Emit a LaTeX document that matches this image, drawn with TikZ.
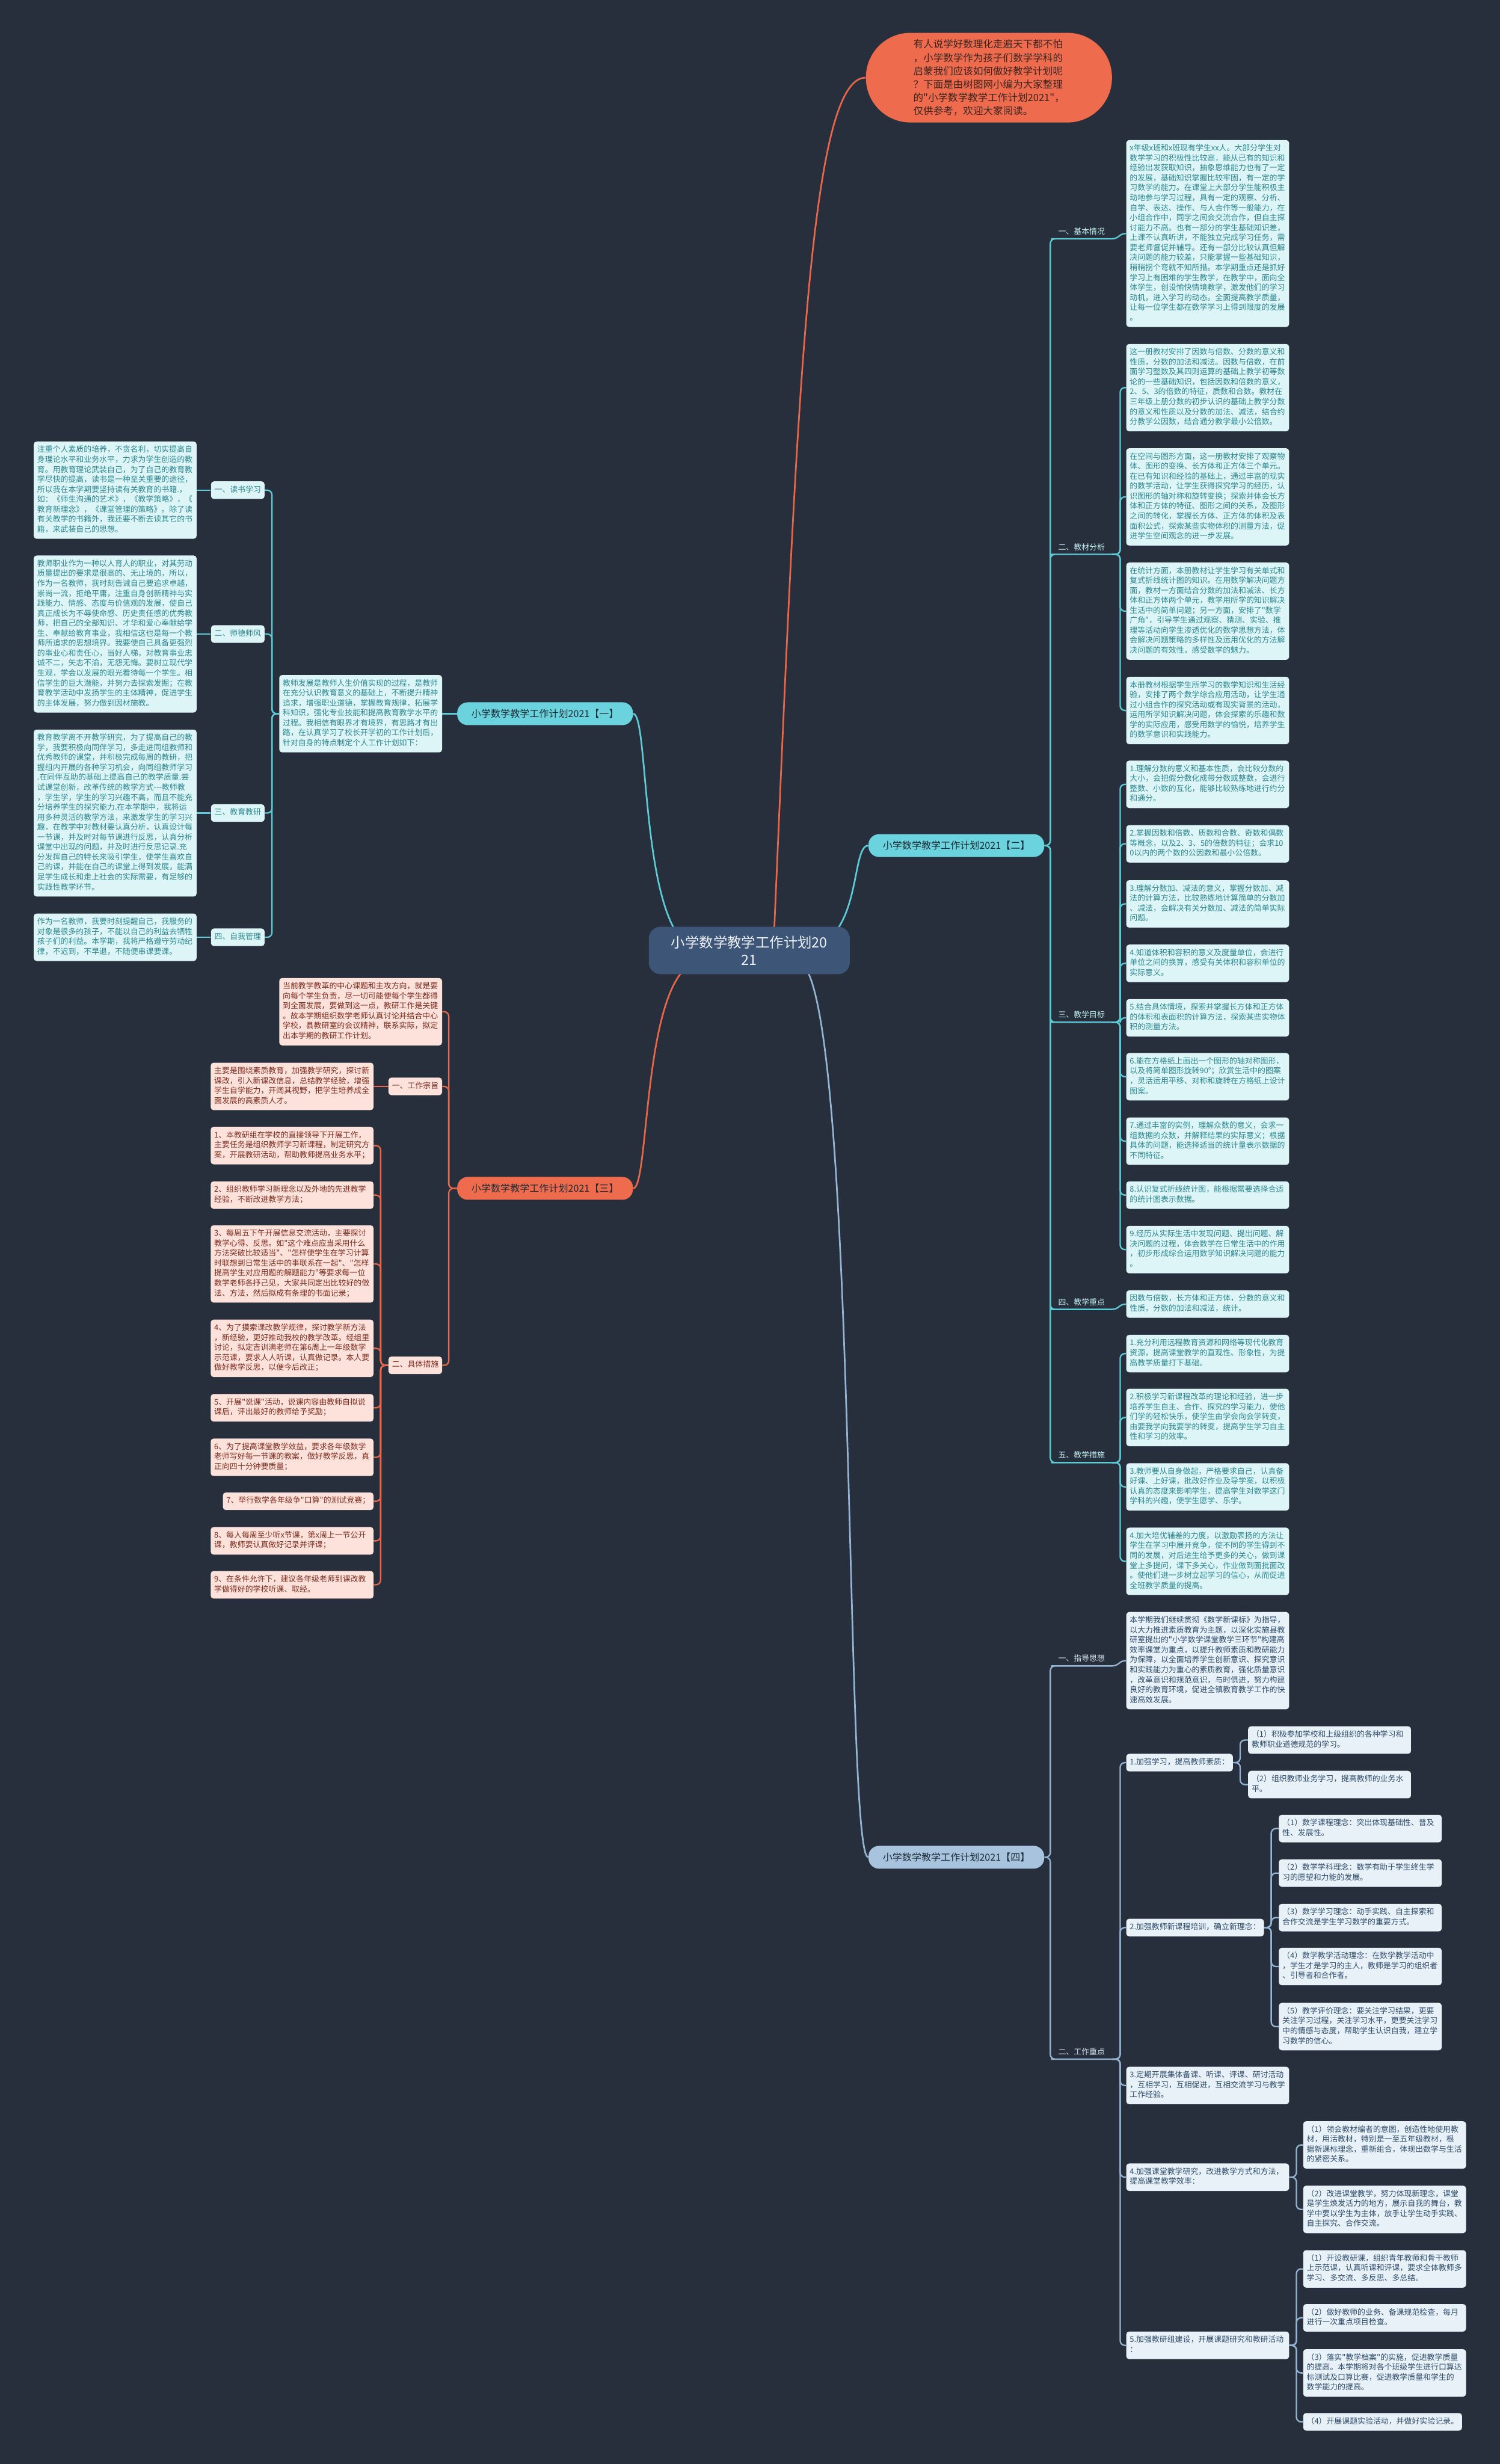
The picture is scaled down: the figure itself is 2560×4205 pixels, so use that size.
\documentclass[tikz,border=0pt]{standalone}
\usepackage{fontspec}
\newfontfamily\cjk{Noto Sans CJK SC}
\newcommand{\dfont}{\cjk\fontsize{6.625}{8.5}\selectfont}
\newcommand{\elb}[4]{\draw[#1] (#2) -- ++(#3,0) |- (#4);}
\definecolor{bgc}{HTML}{272F3C}
\definecolor{cyline}{HTML}{5DCBD6}
\definecolor{cynode}{HTML}{6BD3DD}
\definecolor{cyfill}{HTML}{DEF5F7}
\definecolor{cytext}{HTML}{2B8790}
\definecolor{cylab}{HTML}{BFEEF2}
\definecolor{ogline}{HTML}{E8674A}
\definecolor{ognode}{HTML}{EF6B4D}
\definecolor{ogfill}{HTML}{FCE2DB}
\definecolor{ogtext}{HTML}{7F2C1E}
\definecolor{introtext}{HTML}{3A2420}
\definecolor{stline}{HTML}{94B4D4}
\definecolor{stnode}{HTML}{A8C3DE}
\definecolor{stfill}{HTML}{E8F1F8}
\definecolor{sttext}{HTML}{2E4B6A}
\definecolor{stlab}{HTML}{D0E0EF}
\definecolor{rootc}{HTML}{3D5577}
\definecolor{rootfg}{HTML}{EEF2F7}
\definecolor{brtext}{HTML}{1D2B36}
\pgfdeclarelayer{bg}
\pgfdeclarelayer{lines}
\pgfsetlayers{bg,lines,main}
\begin{document}
\begin{tikzpicture}[x=0.5pt,y=-0.5pt,
  base/.style={rectangle, rounded corners=2.5pt, font=\dfont, inner xsep=3pt, inner ysep=3.25pt, align=left, execute at begin node=\strut, execute at end node=\strut},
  cy/.style={base, fill=cyfill, text=cytext},
  og/.style={base, fill=ogfill, text=ogtext},
  st/.style={base, fill=stfill, text=sttext},
  tw/.style={text width=133pt},
  lab/.style={font=\dfont, inner sep=0pt, anchor=west, execute at begin node=\strut},
  br/.style={rectangle, rounded corners=9pt, minimum width=150pt, minimum height=19.5pt, inner sep=0pt, font=\cjk\fontsize{8.25}{10}\selectfont, text=brtext},
  lcy/.style={draw=cyline, line width=1.2pt, rounded corners=4pt},
  log/.style={draw=ogline, line width=1.2pt, rounded corners=4pt},
  lst/.style={draw=stline, line width=1.2pt, rounded corners=4pt},
  curve/.style={line width=1.4pt}
]
\begin{pgfonlayer}{bg}
\fill[bgc] (0,0) rectangle (2560,4205);
\end{pgfonlayer}
\useasboundingbox (0,0) rectangle (2560,4205);

% ---------- root and intro ----------
\node[rectangle, rounded corners=10pt, fill=rootc, text=rootfg, font=\cjk\fontsize{12}{15}\selectfont, align=center, minimum width=171.5pt, minimum height=40.5pt, inner sep=0pt] (R) at (1279,1622) {小学数学教学工作计划20\\21};

\node[rectangle, rounded corners=38pt, fill=ognode, text=introtext, font=\cjk\fontsize{8.5}{11.35}\selectfont, align=left, minimum width=210pt, minimum height=76.5pt, inner sep=0pt] (I) at (1688,132.5) {有人说学好数理化走遍天下都不怕\\，小学数学作为孩子们数学学科的\\启蒙我们应该如何做好教学计划呢\\？下面是由树图网小编为大家整理\\的"小学数学教学工作计划2021"，\\仅供参考，欢迎大家阅读。};

% ---------- branch nodes ----------
\node[br, fill=cynode, anchor=west] (B1) at (780,1218) {小学数学教学工作计划2021【一】};
\node[br, fill=cynode, anchor=west] (B2) at (1482,1443) {小学数学教学工作计划2021【二】};
\node[br, fill=ognode, anchor=west] (B3) at (780,2028) {小学数学教学工作计划2021【三】};
\node[br, fill=stnode, anchor=west] (B4) at (1482,3169.5) {小学数学教学工作计划2021【四】};

% ---------- branch one (left, cyan) ----------
\node[cy,tw,anchor=east] (T1) at (755,1218) {教师发展是教师人生价值实现的过程，是教师\\在充分认识教育意义的基础上，不断提升精神\\追求，增强职业道德，掌握教育规律，拓展学\\科知识，强化专业技能和提高教育教学水平的\\过程。我相信有眼界才有境界，有思路才有出\\路，在认真学习了校长开学初的工作计划后，\\针对自身的特点制定个人工作计划如下：};
\node[cy,anchor=east] (La1) at (452,836.5) {一、读书学习};
\node[cy,anchor=east] (La2) at (452,1082) {二、师德师风};
\node[cy,anchor=east] (La3) at (452,1387.5) {三、教育教研};
\node[cy,anchor=east] (La4) at (452,1599.5) {四、自我管理};
\node[cy,tw,anchor=east] (Da1) at (336,836.5) {注重个人素质的培养，不贪名利，切实提高自\\身理论水平和业务水平，力求为学生创造的教\\育。用教育理论武装自己，为了自己的教育教\\学尽快的提高，读书是一种至关重要的途径，\\所以我在本学期要坚持读有关教育的书籍.，\\如：《师生沟通的艺术》，《教学策略》，《\\教育新理念》，《课堂管理的策略》。除了读\\有关教学的书籍外，我还要不断去读其它的书\\籍，来武装自己的思想。};
\node[cy,tw,anchor=east] (Da2) at (336,1082) {教师职业作为一种以人育人的职业，对其劳动\\质量提出的要求是很高的、无止境的，所以，\\作为一名教师，我时刻告诫自己要追求卓越，\\崇尚一流，拒绝平庸，注重自身创新精神与实\\践能力、情感、态度与价值观的发展，使自己\\真正成长为不辱使命感、历史责任感的优秀教\\师，把自己的全部知识、才华和爱心奉献给学\\生、奉献给教育事业，我相信这也是每一个教\\师所追求的思想境界。我要使自己具备更强烈\\的事业心和责任心，当好人梯，对教育事业忠\\诚不二，矢志不渝，无怨无悔。要树立现代学\\生观，学会以发展的眼光看待每一个学生。相\\信学生的巨大潜能，并努力去探索发掘；在教\\育教学活动中发扬学生的主体精神，促进学生\\的主体发展，努力做到因材施教。};
\node[cy,tw,anchor=east] (Da3) at (336,1387.5) {教育教学离不开教学研究，为了提高自己的教\\学，我要积极向同伴学习，多走进同组教师和\\优秀教师的课堂，并积极完成每周的教研，把\\握组内开展的各种学习机会，向同组教师学习\\.在同伴互助的基础上提高自己的教学质量.尝\\试课堂创新，改革传统的教学方式-{}-{}-教师教\\，学生学，学生的学习兴趣不高，而且不能充\\分培养学生的探究能力.在本学期中，我将运\\用多种灵活的教学方法，来激发学生的学习兴\\趣，在教学中对教材要认真分析，认真设计每\\一节课，并及时对每节课进行反思，认真分析\\课堂中出现的问题，并及时进行反思记录.充\\分发挥自己的特长来吸引学生，使学生喜欢自\\己的课，并能在自己的课堂上得到发展，能满\\足学生成长和走上社会的实际需要，有足够的\\实践性教学环节。};
\node[cy,tw,anchor=east] (Da4) at (336,1599.5) {作为一名教师，我要时刻提醒自己，我服务的\\对象是很多的孩子，不能以自己的利益去牺牲\\孩子们的利益。本学期，我将严格遵守劳动纪\\律，不迟到，不早退，不随便串课要课。};

% ---------- branch three (left, orange) ----------
\node[og,tw,anchor=east] (T3) at (755,1726.5) {当前教学教革的中心课题和主攻方向，就是要\\向每个学生负责，尽一切可能使每个学生都得\\到全面发展，要做到这一点，教研工作是关键\\。故本学期组织数学老师认真讨论并结合中心\\学校，县教研室的会议精神，联系实际，拟定\\出本学期的教研工作计划。};
\node[og,anchor=east] (Lc1) at (755,1854) {一、工作宗旨};
\node[og,anchor=east] (Lc2) at (755,2330) {二、具体措施};
\node[og,tw,anchor=east] (Dc0) at (638,1854) {主要是围绕素质教育，加强教学研究，探讨新\\课改，引入新课改信息，总结教学经验，增强\\学生自学能力，开阔其视野，把学生培养成全\\面发展的高素质人才。};
\node[og,tw,anchor=east] (Dc1) at (638,1955) {1、本教研组在学校的直接领导下开展工作，\\主要任务是组织教师学习新课程，制定研究方\\案，开展教研活动，帮助教师提高业务水平；};
\node[og,tw,anchor=east] (Dc2) at (638,2039.5) {2、组织教师学习新理念以及外地的先进教学\\经验，不断改进教学方法；};
\node[og,tw,anchor=east] (Dc3) at (638,2157) {3、每周五下午开展信息交流活动，主要探讨\\教学心得、反思。如"这个难点应当采用什么\\方法突破比较适当"、"怎样使学生在学习计算\\时联想到日常生活中的事联系在一起"、"怎样\\提高学生对应用题的解题能力"等要求每一位\\数学老师各抒己见，大家共同定出比较好的做\\法、方法，然后拟成有条理的书面记录；};
\node[og,tw,anchor=east] (Dc4) at (638,2301) {4、为了摸索课改教学规律，探讨教学新方法\\，新经验，更好推动我校的教学改革。经组里\\讨论，拟定吉训满老师在第6周上一年级数学\\示范课，要求人人听课，认真做记录。本人要\\做好教学反思，以便今后改正；};
\node[og,tw,anchor=east] (Dc5) at (638,2402.5) {5、开展"说课"活动，说课内容由教师自拟说\\课后，评出最好的教师给予奖励；};
\node[og,tw,anchor=east] (Dc6) at (638,2487) {6、为了提高课堂教学效益，要求各年级数学\\老师写好每一节课的教案，做好教学反思，真\\正向四十分钟要质量；};
\node[og,anchor=east] (Dc7) at (638,2562) {7、举行数学各年级争"口算"的测试竞赛；};
\node[og,tw,anchor=east] (Dc8) at (638,2629.5) {8、每人每周至少听x节课，第x周上一节公开\\课，教师要认真做好记录并评课；};
\node[og,tw,anchor=east] (Dc9) at (638,2704.5) {9、在条件允许下，建议各年级老师到课改教\\学做得好的学校听课、取经。};

% ---------- branch two (right, cyan) ----------
\node[lab,text=cylab] (L21) at (1806,396.5) {一、基本情况};
\node[lab,text=cylab] (L22) at (1806,935) {二、教材分析};
\node[lab,text=cylab] (L23) at (1806,1733.5) {三、教学目标};
\node[lab,text=cylab] (L24) at (1806,2223.5) {四、教学重点};
\node[lab,text=cylab] (L25) at (1806,2485) {五、教学措施};
\foreach \n/\y in {21/398.5,22/937,23/1735.5,24/2225.5,25/2487}{
  \coordinate (L\n s) at (1802,\y+9);
  \coordinate (L\n e) at (1898,\y+9);
}
\node[cy,tw,anchor=west] (Db1) at (1922,398.5) {x年级x班和x班现有学生xx人。大部分学生对\\数学学习的积极性比较高，能从已有的知识和\\经验出发获取知识，抽象思维能力也有了一定\\的发展，基础知识掌握比较牢固，有一定的学\\习数学的能力。在课堂上大部分学生能积极主\\动地参与学习过程，具有一定的观察、分析、\\自学、表达、操作、与人合作等一般能力，在\\小组合作中，同学之间会交流合作，但自主探\\讨能力不高。也有一部分的学生基础知识差，\\上课不认真听讲，不能独立完成学习任务，需\\要老师督促并辅导。还有一部分比较认真但解\\决问题的能力较差，只能掌握一些基础知识，\\稍稍拐个弯就不知所措。本学期重点还是抓好\\学习上有困难的学生教学，在教学中，面向全\\体学生，创设愉快情境教学，激发他们的学习\\动机，进入学习的动态。全面提高教学质量，\\让每一位学生都在数学学习上得到限度的发展\\。};
\node[cy,tw,anchor=west] (Db2) at (1922,661.5) {这一册教材安排了因数与倍数、分数的意义和\\性质，分数的加法和减法。因数与倍数，在前\\面学习整数及其四则运算的基础上教学初等数\\论的一些基础知识，包括因数和倍数的意义，\\2、5、3的倍数的特征，质数和合数。教材在\\三年级上册分数的初步认识的基础上教学分数\\的意义和性质以及分数的加法、减法，结合约\\分教学公因数，结合通分教学最小公倍数。};
\node[cy,tw,anchor=west] (Db3) at (1922,848) {在空间与图形方面，这一册教材安排了观察物\\体、图形的变换、长方体和正方体三个单元。\\在已有知识和经验的基础上，通过丰富的现实\\的数学活动，让学生获得探究学习的经历，认\\识图形的轴对称和旋转变换；探索并体会长方\\体和正方体的特征、图形之间的关系，及图形\\之间的转化，掌握长方体、正方体的体积及表\\面积公式，探索某些实物体积的测量方法，促\\进学生空间观念的进一步发展。};
\node[cy,tw,anchor=west] (Db4) at (1922,1043) {在统计方面，本册教材让学生学习有关单式和\\复式折线统计图的知识。在用数学解决问题方\\面，教材一方面结合分数的加法和减法、长方\\体和正方体两个单元，教学用所学的知识解决\\生活中的简单问题；另一方面，安排了"数学\\广角"，引导学生通过观察、猜测、实验、推\\理等活动向学生渗透优化的数学思想方法，体\\会解决问题策略的多样性及运用优化的方法解\\决问题的有效性，感受数学的魅力。};
\node[cy,tw,anchor=west] (Db5) at (1922,1212.5) {本册教材根据学生所学习的数学知识和生活经\\验，安排了两个数学综合应用活动，让学生通\\过小组合作的探究活动或有现实背景的活动，\\运用所学知识解决问题，体会探索的乐趣和数\\学的实际应用，感受用数学的愉悦，培养学生\\的数学意识和实践能力。};
\node[cy,tw,anchor=west] (Db6) at (1922,1338.5) {1.理解分数的意义和基本性质，会比较分数的\\大小，会把假分数化成带分数或整数，会进行\\整数、小数的互化，能够比较熟练地进行约分\\和通分。};
\node[cy,tw,anchor=west] (Db7) at (1922,1440) {2.掌握因数和倍数、质数和合数、奇数和偶数\\等概念，以及2、3、5的倍数的特征；会求10\\0以内的两个数的公因数和最小公倍数。};
\node[cy,tw,anchor=west] (Db8) at (1922,1542.5) {3.理解分数加、减法的意义，掌握分数加、减\\法的计算方法，比较熟练地计算简单的分数加\\、减法，会解决有关分数加、减法的简单实际\\问题。};
\node[cy,tw,anchor=west] (Db9) at (1922,1644) {4.知道体积和容积的意义及度量单位，会进行\\单位之间的换算，感受有关体积和容积单位的\\实际意义。};
\node[cy,tw,anchor=west] (Db10) at (1922,1737) {5.结合具体情境，探索并掌握长方体和正方体\\的体积和表面积的计算方法，探索某些实物体\\积的测量方法。};
\node[cy,tw,anchor=west] (Db11) at (1922,1837.5) {6.能在方格纸上画出一个图形的轴对称图形，\\以及将简单图形旋转90°；欣赏生活中的图案\\，灵活运用平移、对称和旋转在方格纸上设计\\图案。};
\node[cy,tw,anchor=west] (Db12) at (1922,1947.5) {7.通过丰富的实例，理解众数的意义，会求一\\组数据的众数，并解释结果的实际意义；根据\\具体的问题，能选择适当的统计量表示数据的\\不同特征。};
\node[cy,tw,anchor=west] (Db13) at (1922,2039.5) {8.认识复式折线统计图，能根据需要选择合适\\的统计图表示数据。};
\node[cy,tw,anchor=west] (Db14) at (1922,2132.5) {9.经历从实际生活中发现问题、提出问题、解\\决问题的过程，体会数学在日常生活中的作用\\，初步形成综合运用数学知识解决问题的能力\\。};
\node[cy,tw,anchor=west] (Db15) at (1922,2225.5) {因数与倍数，长方体和正方体，分数的意义和\\性质，分数的加法和减法，统计。};
\node[cy,tw,anchor=west] (Db16) at (1922,2310) {1.充分利用远程教育资源和网络等现代化教育\\资源，提高课堂教学的直观性、形象性，为提\\高教学质量打下基础。};
\node[cy,tw,anchor=west] (Db17) at (1922,2419) {2.积极学习新课程改革的理论和经验，进一步\\培养学生自主、合作、探究的学习能力，使他\\们学的轻松快乐，使学生由学会向会学转变，\\由要我学向我要学的转变，提高学生学习自主\\性和学习的效率。};
\node[cy,tw,anchor=west] (Db18) at (1922,2537.5) {3.教师要从自身做起，严格要求自己，认真备\\好课、上好课，批改好作业及导学案，以积极\\认真的态度来影响学生，提高学生对数学这门\\学科的兴趣，使学生愿学、乐学。};
\node[cy,tw,anchor=west] (Db19) at (1922,2664.5) {4.加大培优辅差的力度，以激励表扬的方法让\\学生在学习中展开竞争，使不同的学生得到不\\同的发展，对后进生给予更多的关心，做到课\\堂上多提问，课下多关心，作业做到面批面改\\。使他们进一步树立起学习的信心，从而促进\\全班教学质量的提高。};

% ---------- branch four (right, steel) ----------
\node[lab,text=stlab] (L41) at (1806,2832) {一、指导思想};
\node[lab,text=stlab] (L42) at (1806,3503) {二、工作重点};
\coordinate (L41s) at (1802,2843);
\coordinate (L41e) at (1898,2843);
\coordinate (L42s) at (1802,3514);
\coordinate (L42e) at (1898,3514);
\node[st,tw,anchor=west] (Dd0) at (1922,2834) {本学期我们继续贯彻《数学新课标》为指导，\\以大力推进素质教育为主题，以深化实施县教\\研室提出的"小学数学课堂教学三环节"构建高\\效率课堂为重点，以提升教师素质和教研能力\\为保障，以全面培养学生创新意识、探究意识\\和实践能力为重心的素质教育，强化质量意识\\，改革意识和规范意识，与时俱进，努力构建\\良好的教育环境，促进全镇教育教学工作的快\\速高效发展。};
\node[st,anchor=west] (C1) at (1922,3008) {1.加强学习，提高教师素质：};
\node[st,tw,anchor=west] (C11) at (2130,2969.5) {（1）积极参加学校和上级组织的各种学习和\\教师职业道德规范的学习。};
\node[st,tw,anchor=west] (C12) at (2130,3045.5) {（2）组织教师业务学习，提高教师的业务水\\平。};
\node[st,anchor=west] (C2) at (1922,3289.5) {2.加强教师新课程培训，确立新理念：};
\node[st,tw,anchor=west] (C21) at (2182.5,3120.5) {（1）数学课程理念：突出体现基础性、普及\\性、发展性。};
\node[st,tw,anchor=west] (C22) at (2182.5,3196.5) {（2）数学学科理念：数学有助于学生终生学\\习的愿望和力能的发展。};
\node[st,tw,anchor=west] (C23) at (2182.5,3272.5) {（3）数学学习理念：动手实践、自主探索和\\合作交流是学生学习数学的重要方式。};
\node[st,tw,anchor=west] (C24) at (2182.5,3356) {（4）数学教学活动理念：在数学教学活动中\\，学生才是学习的主人，教师是学习的组织者\\、引导者和合作者。};
\node[st,tw,anchor=west] (C25) at (2182.5,3458.5) {（5）教学评价理念：要关注学习结果，更要\\关注学习过程，关注学习水平，更要关注学习\\中的情感与态度，帮助学生认识自我，建立学\\习数学的信心。};
\node[st,tw,anchor=west] (C3) at (1922,3559) {3.定期开展集体备课、听课、评课、研讨活动\\，互相学习，互相促进，互相交流学习与教学\\工作经验。};
\node[st,tw,anchor=west] (C4) at (1922,3715.5) {4.加强课堂教学研究，改进教学方式和方法，\\提高课堂教学效率：};
\node[st,tw,anchor=west] (C41) at (2224,3660.5) {（1）领会教材编者的意图，创造性地使用教\\材，用活教材，特别是一至五年级教材，根\\据新课标理念，重新组合，体现出数学与生活\\的紧密关系。};
\node[st,tw,anchor=west] (C42) at (2224,3770.5) {（2）改进课堂教学，努力体现新理念，课堂\\是学生焕发活力的地方，展示自我的舞台，教\\学中要以学生为主体，放手让学生动手实践、\\自主探究、合作交流。};
\node[st,tw,anchor=west] (C5) at (1922,4002.5) {5.加强教研组建设，开展课题研究和教研活动\\：};
\node[st,tw,anchor=west] (C51) at (2224,3872) {（1）开设教研课，组织青年教师和骨干教师\\上示范课，认真听课和评课，要求全体教师多\\学习、多交流、多反思、多总结。};
\node[st,tw,anchor=west] (C52) at (2224,3955.5) {（2）做好教师的业务、备课规范检查，每月\\进行一次重点项目检查。};
\node[st,tw,anchor=west] (C53) at (2224,4049.5) {（3）落实"教学档案"的实施，促进教学质量\\的提高。本学期将对各个班级学生进行口算达\\标测试及口算比赛，促进教学质量和学生的\\数学能力的提高。};
\node[st,anchor=west] (C54) at (2224,4133) {（4）开展课题实验活动，并做好实验记录。};

% ---------- connectors ----------
\begin{pgfonlayer}{lines}
% root curves
\draw[ogline, curve] (1320,1622) .. controls (1360,700) and (1380,132) .. (I.west);
\draw[cyline, curve] (1360,1622) .. controls (1475,1622) and (1450,1443) .. (B2.west);
\draw[stline, curve] (1360,1640) .. controls (1465,1640) and (1440,3169.5) .. (B4.west);
\draw[cyline, curve] (1200,1622) .. controls (1090,1622) and (1110,1218) .. (B1.east);
\draw[ogline, curve] (1200,1640) .. controls (1095,1640) and (1110,2028) .. (B3.east);
% branch one
\draw[lcy] (B1.west) -- (T1.east);
\foreach \k in {1,2,3,4}{
  \elb{lcy}{T1.west}{-12}{La\k.east}
  \draw[lcy] (La\k.west) -- (Da\k.east);
}
% branch three
\elb{log}{B3.west}{-14}{T3.east}
\elb{log}{B3.west}{-14}{Lc1.east}
\elb{log}{B3.west}{-14}{Lc2.east}
\draw[log] (Lc1.west) -- (Dc0.east);
\foreach \k in {1,...,9}{
  \elb{log}{Lc2.west}{-13}{Dc\k.east}
}
% branch two
\foreach \n in {21,22,23,24,25}{
  \draw[lcy] (B2.east) -- ++(10,0) |- (L\n s) -- (L\n e);
}
\draw[lcy] (L21e) .. controls +(12,0) and +(-12,0) .. (Db1.west);
\foreach \k in {2,...,5}{\elb{lcy}{L22e}{14}{Db\k.west}}
\foreach \k in {6,...,14}{\elb{lcy}{L23e}{14}{Db\k.west}}
\draw[lcy] (L24e) .. controls +(12,0) and +(-12,0) .. (Db15.west);
\foreach \k in {16,...,19}{\elb{lcy}{L25e}{14}{Db\k.west}}
% branch four
\draw[lst] (B4.east) -- ++(10,0) |- (L41s) -- (L41e);
\draw[lst] (B4.east) -- ++(10,0) |- (L42s) -- (L42e);
\draw[lst] (L41e) .. controls +(12,0) and +(-12,0) .. (Dd0.west);
\foreach \k in {1,...,5}{\elb{lst}{L42e}{14}{C\k.west}}
\foreach \k in {1,2}{\elb{lst}{C1.east}{12}{C1\k.west}}
\foreach \k in {1,...,5}{\elb{lst}{C2.east}{12}{C2\k.west}}
\foreach \k in {1,2}{\elb{lst}{C4.east}{12}{C4\k.west}}
\foreach \k in {1,...,4}{\elb{lst}{C5.east}{12}{C5\k.west}}
\end{pgfonlayer}
\end{tikzpicture}
\end{document}
